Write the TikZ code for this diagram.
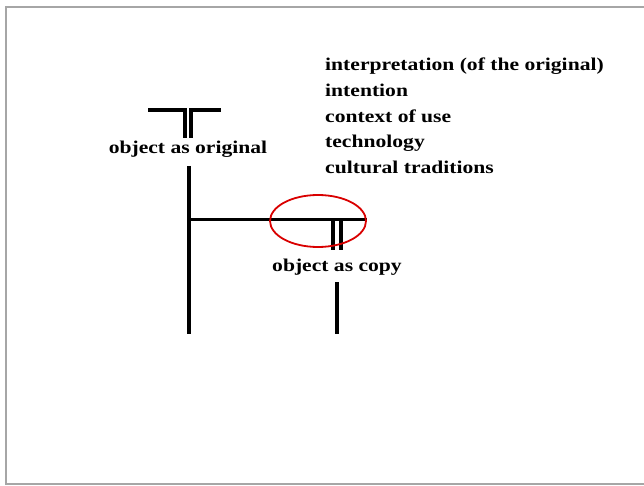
\documentclass[tikz,border=0pt]{standalone}
\usepackage{fontspec}
\setmainfont[FakeStretch=1.2]{Liberation Serif}
\usetikzlibrary{shapes.geometric}
\begin{document}
\begin{tikzpicture}[x=1pt,y=-1pt,
  bar/.style={line width=3.5pt, line cap=butt},
  lbl/.style={font=\fontsize{18}{20}\selectfont\bfseries, inner sep=0pt, anchor=base},
  lst/.style={font=\fontsize{18}{20}\selectfont\bfseries, inner sep=0pt, anchor=base west}]
\useasboundingbox (0,0) rectangle (644,486);
\draw[gray!70, line width=2pt] (650,7) -- (6,7) -- (6,484) -- (650,484);
% original T
\coordinate (o1) at (148,110);
\coordinate (o2) at (185,110);
\coordinate (o3) at (185,138);
\coordinate (o4) at (191,138);
\coordinate (o5) at (191,110);
\coordinate (o6) at (221,110);
\draw[bar, line join=miter] (o1) -- (o2) -- (o3);
\draw[bar, line join=miter] (o4) -- (o5) -- (o6);
\node[lbl] (orig) at (188,154) {object as original};
% main stem
\coordinate (s1) at (189,166);
\coordinate (s2) at (189,334);
\coordinate (j) at (189,219);
\coordinate (h2) at (367,219);
\draw[bar] (s1) -- (s2);
\draw[line width=3pt] (j) -- (h2);
% copy T
\coordinate (c1) at (333,219);
\coordinate (c2) at (333,250);
\coordinate (c3) at (341,219);
\coordinate (c4) at (341,250);
\draw[bar] (c1) -- (c2);
\draw[bar] (c3) -- (c4);
\node[lbl] (copy) at (337,271) {object as copy};
\coordinate (d1) at (337,282);
\coordinate (d2) at (337,334);
\draw[bar] (d1) -- (d2);
% red ellipse
\node[draw=red!85!black, line width=1.8pt, ellipse, minimum width=96pt, minimum height=52pt, inner sep=0pt] (ring) at (318,221) {};
% list
\node[lst] (l1) at (325,71) {interpretation (of the original)};
\node[lst] (l2) at (325,97) {intention};
\node[lst] (l3) at (325,123) {context of use};
\node[lst] (l4) at (325,148) {technology};
\node[lst] (l5) at (325,174) {cultural traditions};
\end{tikzpicture}
\end{document}
